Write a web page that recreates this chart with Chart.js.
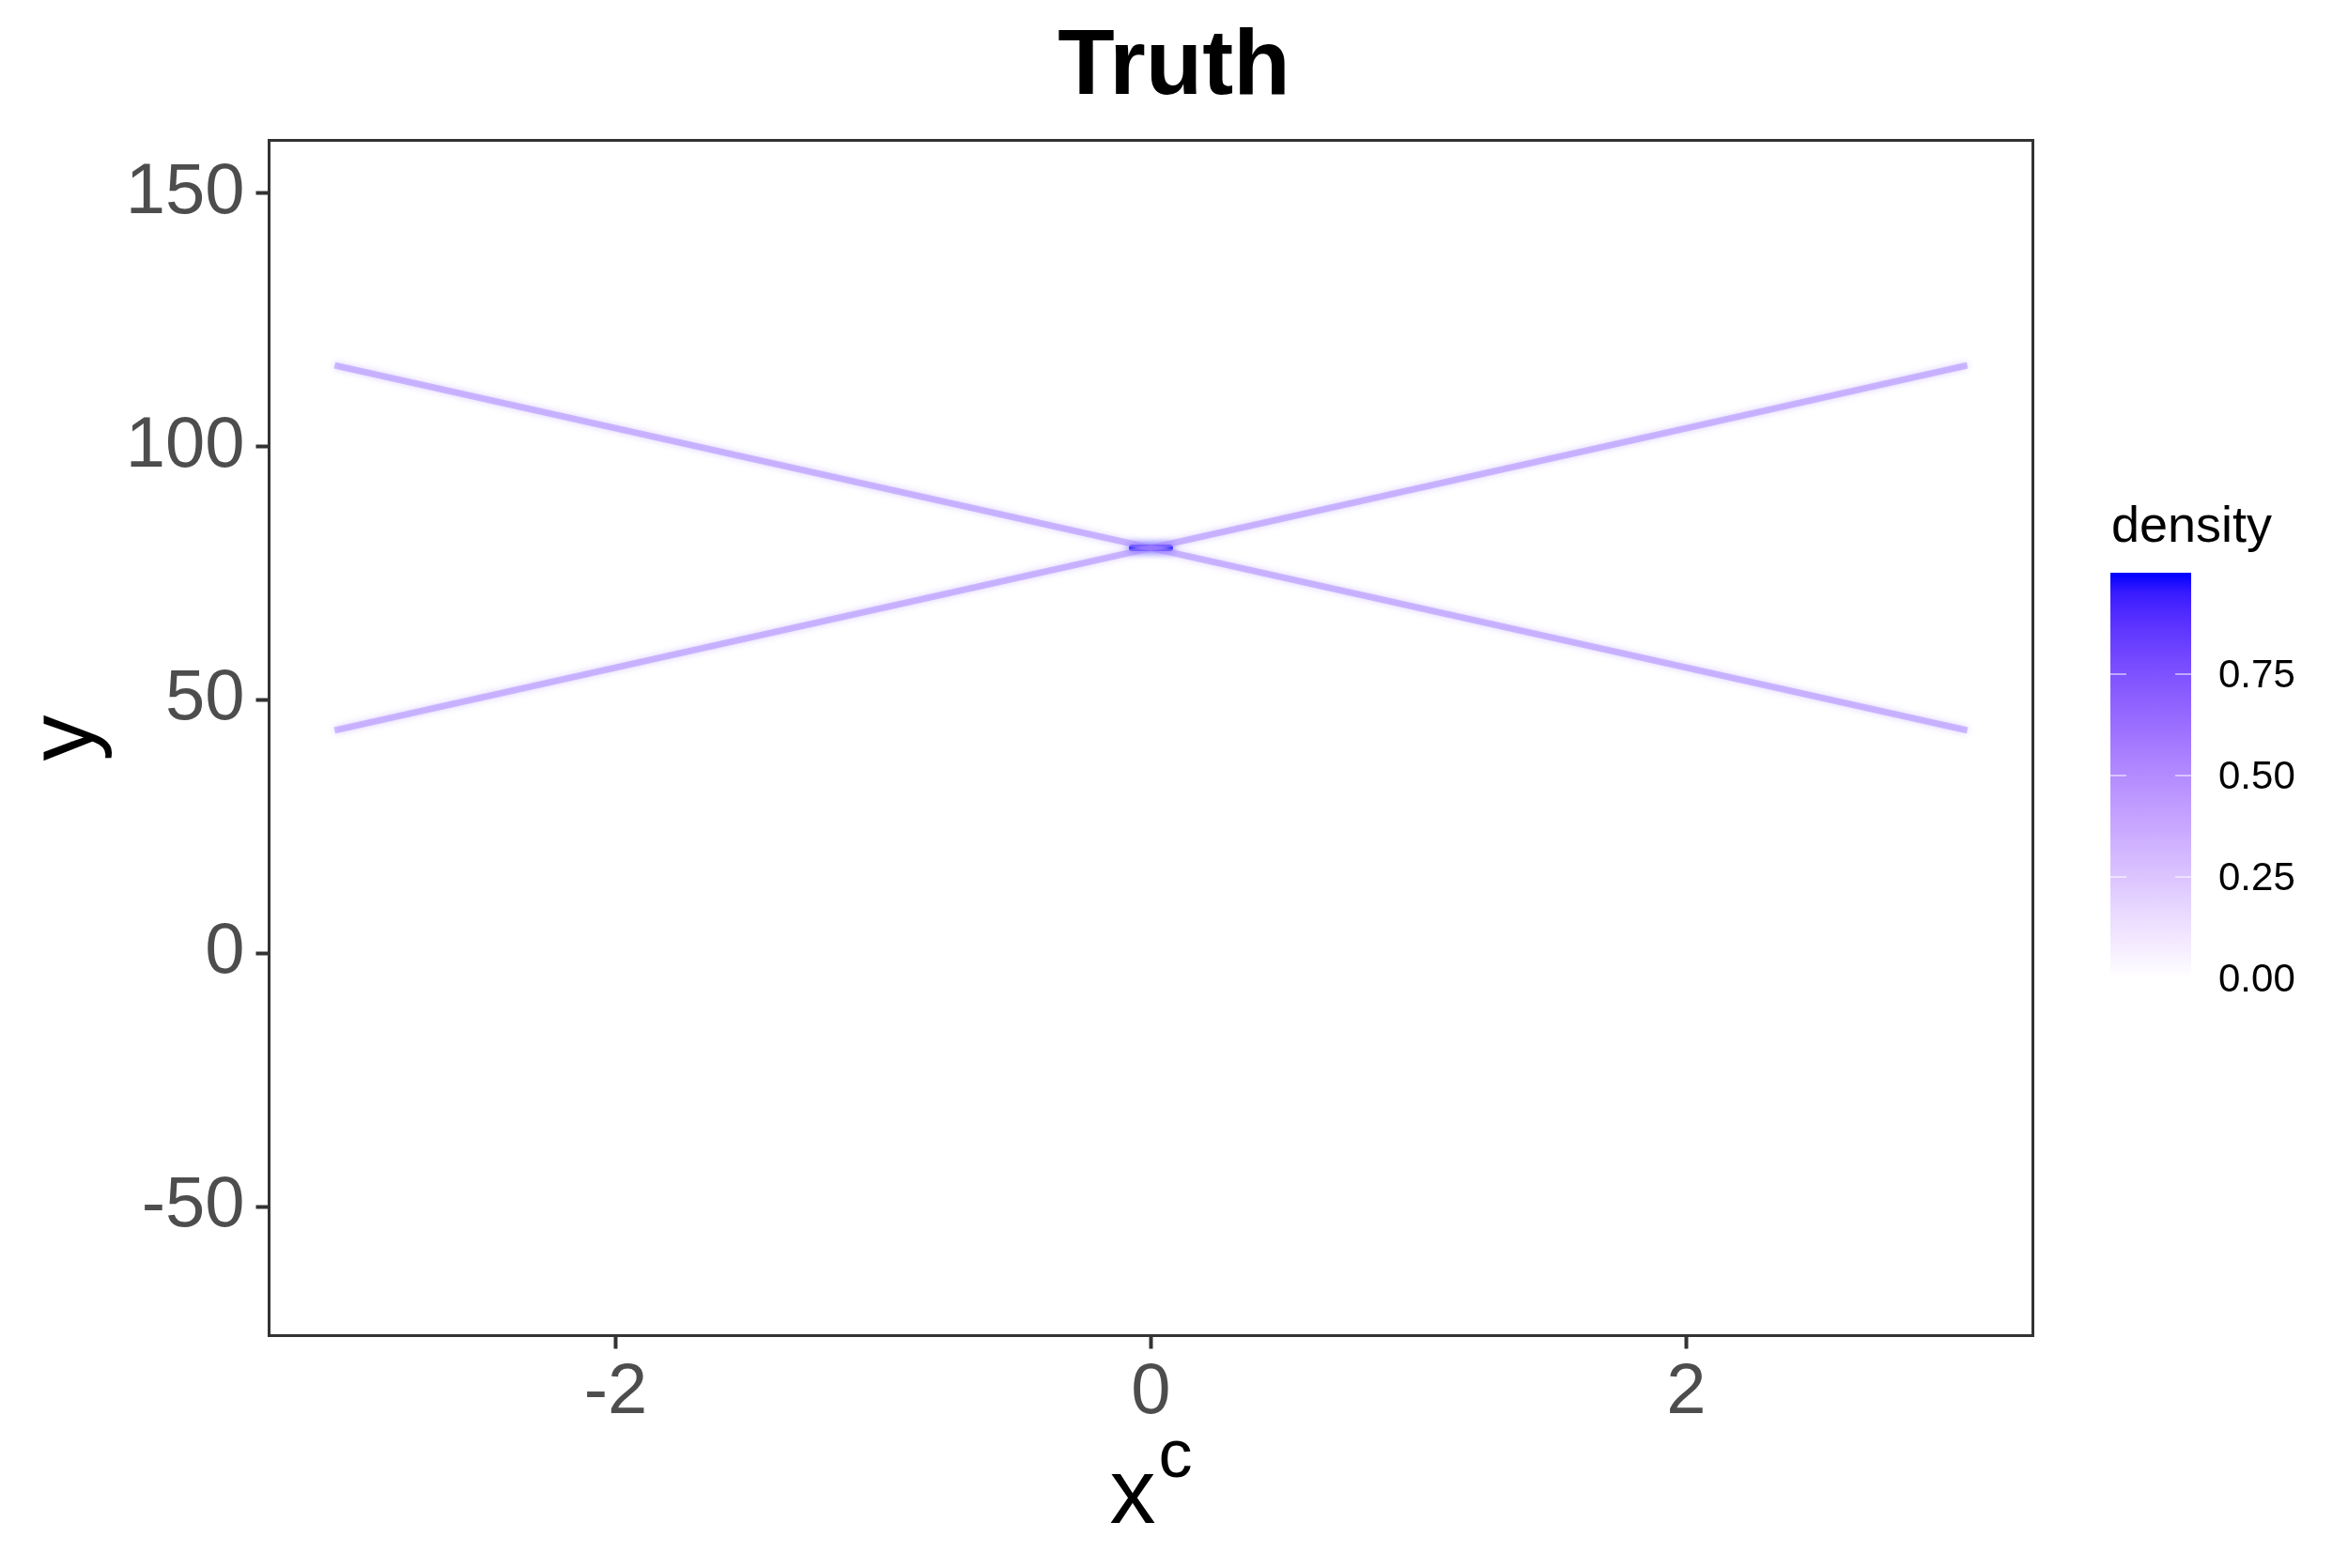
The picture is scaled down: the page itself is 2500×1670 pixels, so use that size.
<!DOCTYPE html>
<html>
<head>
<meta charset="utf-8">
<script src="https://cdn.jsdelivr.net/npm/chart.js@4.4.1/dist/chart.umd.min.js"></script>
<style>
html,body{margin:0;padding:0;background:#fff}
#TruthDiv{width:2500px;height:1670px}
</style>
</head>
<body>
<div id="TruthDiv"><canvas id="TruthChartHTML" width="2500" height="1670"></canvas></div>
<script>
//												Data
const XC=[-3.05,0,3.05]
const Y_RISING=[44,80,116]
const Y_FALLING=[116,80,44]
const PEAK_X=[-0.07,0.07]
const PEAK_Y=[80,80]
const X_TICKS=[-2,0,2]
const Y_TICKS=[-50,0,50,100,150]
const X_RANGE=[-3.295,3.295]
const Y_RANGE=[-75.4,160.4]
const DENSITY_BREAKS=[0,0.25,0.5,0.75]
const DENSITY_MAX=1.0

//												Helpers
const FONT="'Liberation Sans', Arial, sans-serif"
function toPoints(xs,ys){return xs.map((x,i)=>({x:x,y:ys[i]}))}
// white -> blue, mixed in Lab like scale_fill_gradient
function labMix(t){
	const L=100+(32.30-100)*t, A=79.19*t, B=-107.86*t
	const fy=(L+16)/116, fx=fy+A/500, fz=fy-B/200
	const f=v=>v**3>0.008856?v**3:(v-16/116)/7.787
	const X=0.95047*f(fx),Y=f(fy),Z=1.08883*f(fz)
	const lin=[3.2406*X-1.5372*Y-0.4986*Z,-0.9689*X+1.8758*Y+0.0415*Z,0.0557*X-0.2040*Y+1.0570*Z]
	const g=c=>{c=Math.min(1,Math.max(0,c));return Math.round(255*(c<=0.0031308?12.92*c:1.055*c**(1/2.4)-0.055))}
	return 'rgb('+lin.map(g).join(',')+')'
}

//												Plugins
const glowPlugin={id:'glow',
	beforeDatasetDraw(chart,args){const ds=chart.data.datasets[args.index];chart.ctx.save();chart.ctx.shadowColor=ds.glowColor;chart.ctx.shadowBlur=ds.glowBlur},
	afterDatasetDraw(chart){chart.ctx.restore()}
}

const framePlugin={id:'frame',
	afterDraw(chart){
		const c=chart.ctx, a=chart.chartArea
		c.save()
		// panel box
		c.strokeStyle='#333333';c.lineWidth=3
		c.strokeRect(a.left,a.top,a.right-a.left,a.bottom-a.top)
		// title
		c.fillStyle='#000';c.textAlign='center';c.textBaseline='alphabetic'
		c.font='bold 99px '+FONT
		c.fillText('Truth',1250,100)
		// y title
		c.font='98px '+FONT
		c.save();c.translate(99,(a.top+a.bottom)/2);c.rotate(-Math.PI/2);c.fillText('y',0,0);c.restore()
		// x title with superscript
		c.textAlign='left'
		const wx=c.measureText('x').width
		c.font='72px '+FONT
		const wc=c.measureText('c').width
		const x0=(a.left+a.right)/2-(wx+3+wc)/2
		c.font='98px '+FONT;c.fillText('x',x0,1622)
		c.font='72px '+FONT;c.fillText('c',x0+wx+3,1573)
		// colourbar
		const bl=2247,br=2333,bt=610,bb=1042
		const grad=c.createLinearGradient(0,bb,0,bt)
		for(let i=0;i<=20;i++){grad.addColorStop(i/20,labMix(i/20))}
		c.fillStyle=grad;c.fillRect(bl,bt,br-bl,bb-bt)
		c.font='54px '+FONT;c.fillStyle='#000';c.textAlign='left'
		c.fillText('density',2248,577)
		c.font='42px '+FONT;c.textBaseline='middle'
		DENSITY_BREAKS.forEach(v=>{
			const y=bb-v/DENSITY_MAX*(bb-bt)
			c.strokeStyle='#fff';c.lineWidth=1.2
			if(v>0){c.beginPath();c.moveTo(bl,y);c.lineTo(bl+17,y);c.moveTo(br-17,y);c.lineTo(br,y);c.stroke()}
			c.fillStyle='#000';c.fillText(v.toFixed(2),2362,y+2)
		})
		c.restore()
	}
}

//												Chart
const lineStyle={showLine:true,pointRadius:0,borderWidth:7,borderColor:'rgba(165,130,255,0.5)',glowColor:'rgba(180,150,255,0.9)',glowBlur:7,tension:0}
const TruthChart=new Chart(
	document.getElementById('TruthChartHTML'),
	{
		type:'scatter',
		plugins:[glowPlugin,framePlugin],
		data:{
			datasets:[
				Object.assign({label:'falling',data:toPoints(XC,Y_FALLING)},lineStyle),
				Object.assign({label:'rising',data:toPoints(XC,Y_RISING)},lineStyle),
				{label:'peak',data:toPoints(PEAK_X,PEAK_Y),showLine:true,pointRadius:0,borderWidth:7,borderColor:'rgba(10,10,255,0.95)',glowColor:'rgba(30,20,255,1)',glowBlur:10,borderCapStyle:'round'}
			]
		},
		options:{
			responsive:false,animation:false,
			layout:{padding:{left:0,top:149.5,right:335.5,bottom:0}},
			plugins:{legend:{display:false},title:{display:false},tooltip:{enabled:false}},
			scales:{
				x:{type:'linear',min:X_RANGE[0],max:X_RANGE[1],
					afterBuildTicks:s=>{s.ticks=X_TICKS.map(v=>({value:v}))},
					afterFit:s=>{s.height=247.5},
					grid:{drawOnChartArea:false,drawTicks:true,tickLength:14,tickWidth:4,tickColor:'#333333'},
					border:{display:false},
					ticks:{font:{family:FONT,size:76},color:'#4D4D4D',padding:2,maxRotation:0}
				},
				y:{type:'linear',min:Y_RANGE[0],max:Y_RANGE[1],
					afterBuildTicks:s=>{s.ticks=Y_TICKS.map(v=>({value:v}))},
					afterFit:s=>{s.width=286.5},
					grid:{drawOnChartArea:false,drawTicks:true,tickLength:14,tickWidth:4,tickColor:'#333333'},
					border:{display:false},
					ticks:{font:{family:FONT,size:76},color:'#4D4D4D',padding:12}
				}
			}
		}
	}
)
</script>
</body>
</html>
